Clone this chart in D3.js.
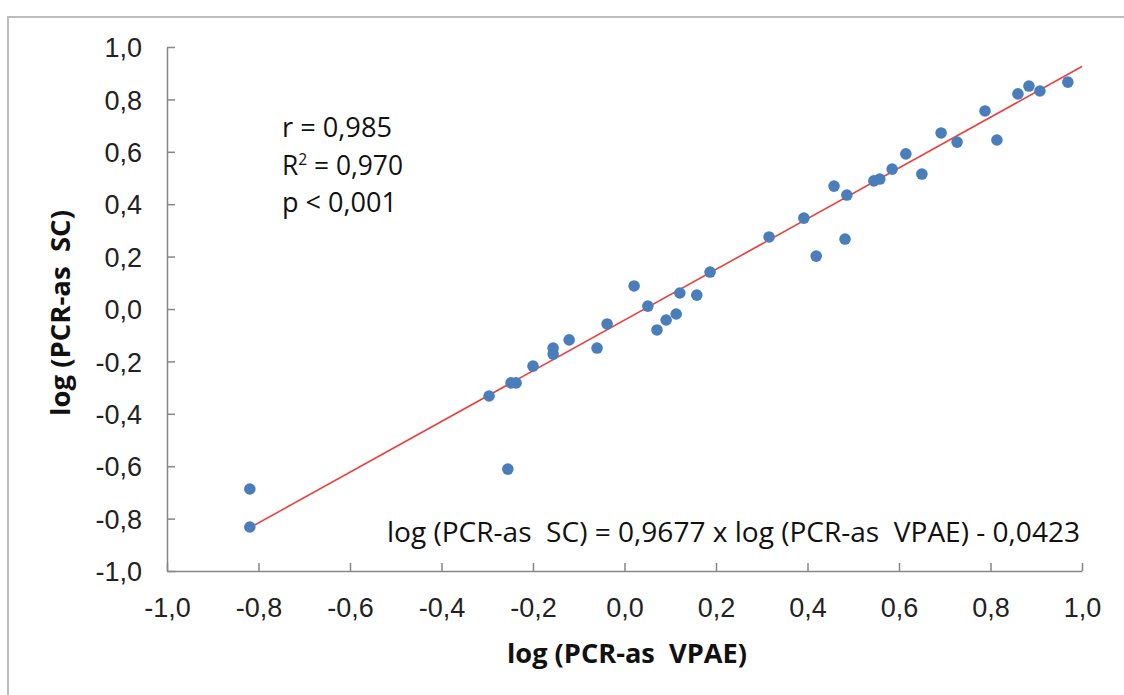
<!DOCTYPE html>
<html>
<head>
<meta charset="utf-8">
<script src="https://cdn.jsdelivr.net/npm/d3@7"></script>
<style>
  html, body { margin: 0; padding: 0; background: #fff; }
  svg { display: block; }
  text { white-space: pre; }
</style>
</head>
<body>
<svg id="viz"></svg>
<script>
let width = 1124;
let height = 695;

// log (PCR-as VPAE) values
let xValues = [-0.819, -0.819, -0.296, -0.255, -0.248, -0.237, -0.200, -0.156, -0.156, -0.121,
               -0.060, -0.038, 0.021, 0.051, 0.071, 0.091, 0.113, 0.121, 0.158, 0.187,
               0.316, 0.392, 0.419, 0.458, 0.482, 0.486, 0.545, 0.558, 0.585, 0.615,
               0.650, 0.692, 0.727, 0.788, 0.814, 0.860, 0.884, 0.908, 0.969];
// log (PCR-as SC) values
let yValues = [-0.687, -0.832, -0.332, -0.611, -0.282, -0.282, -0.218, -0.172, -0.149, -0.118,
               -0.149, -0.057, 0.088, 0.011, -0.080, -0.042, -0.019, 0.061, 0.053, 0.141,
               0.275, 0.347, 0.202, 0.469, 0.267, 0.435, 0.489, 0.496, 0.534, 0.592,
               0.515, 0.672, 0.637, 0.756, 0.645, 0.821, 0.851, 0.832, 0.866];

let tickValues = [-1.0, -0.8, -0.6, -0.4, -0.2, 0.0, 0.2, 0.4, 0.6, 0.8, 1.0];
let slope = 0.9677;
let intercept = -0.0423;
let fitRange = [-0.82, 1.0];
let statLines = ["r = 0,985", "R2 = 0,970", "p < 0,001"];
let equationText = "log (PCR-as  SC) = 0,9677 x log (PCR-as  VPAE) - 0,0423";

let dotColor = "#4a7ebb";
let lineColor = "#e8413c";
let axisColor = "#868686";
let textFont = "'Open Sans', 'DejaVu Sans', sans-serif";
let tickFont = "'Liberation Sans', Arial, sans-serif";

let svg = d3.select("#viz")
    .attr("width", width)
    .attr("height", height);

// frame of the chart area (only top and left edges are visible)
svg.append("path")
    .attr("d", "M8,700 V17 H1130")
    .attr("fill", "none")
    .attr("stroke", "#bdbdbd")
    .attr("stroke-width", 2);

let x = d3.scaleLinear().domain([-1, 1]).range([167, 1082]);
let y = d3.scaleLinear().domain([-1, 1]).range([571, 47]);

let fmt = d => d3.format(".1f")(d).replace(".", ",").replace("−", "-");

let xAxis = svg.append("g")
    .attr("transform", "translate(0," + y(-1) + ")")
    .call(d3.axisBottom(x).tickValues(tickValues).tickSizeInner(-8).tickSizeOuter(0).tickPadding(30).tickFormat(fmt));

let yAxis = svg.append("g")
    .attr("transform", "translate(" + x(-1) + ",0)")
    .call(d3.axisLeft(y).tickValues(tickValues).tickSizeInner(-8).tickSizeOuter(0).tickPadding(25).tickFormat(fmt));

for (const ax of [xAxis, yAxis]) {
    ax.select(".domain").attr("stroke", axisColor).attr("stroke-width", 1.5);
    ax.selectAll(".tick line").attr("stroke", axisColor).attr("stroke-width", 1.5);
    ax.selectAll(".tick text")
        .attr("fill", "#222")
        .style("font-family", tickFont)
        .style("font-size", "27px");
}
xAxis.selectAll(".tick text").attr("dy", "0.36em").attr("y", 36);
yAxis.selectAll(".tick text").attr("dy", "0.36em");

// regression line
let fitLine = d3.line()
    .x(d => x(d))
    .y(d => y(slope * d + intercept));

svg.append("path")
    .datum(fitRange)
    .attr("d", fitLine)
    .attr("fill", "none")
    .attr("stroke", lineColor)
    .attr("stroke-width", 1.6);

// points
let points = xValues.map((v, i) => ({ x: v, y: yValues[i] }));

svg.append("g")
    .selectAll("circle")
    .data(points)
    .enter()
    .append("circle")
    .attr("cx", d => x(d.x))
    .attr("cy", d => y(d.y))
    .attr("r", 5.8)
    .attr("fill", dotColor);

// axis titles
svg.append("text")
    .attr("x", 627)
    .attr("y", 663)
    .attr("text-anchor", "middle")
    .attr("textLength", 240)
    .attr("lengthAdjust", "spacingAndGlyphs")
    .style("font-family", textFont)
    .style("font-weight", "bold")
    .style("font-size", "27px")
    .attr("fill", "#111")
    .text("log (PCR-as  VPAE)");

svg.append("text")
    .attr("transform", "translate(70,313) rotate(-90)")
    .attr("text-anchor", "middle")
    .attr("textLength", 206)
    .attr("lengthAdjust", "spacingAndGlyphs")
    .style("font-family", textFont)
    .style("font-weight", "bold")
    .style("font-size", "27px")
    .attr("fill", "#111")
    .text("log (PCR-as  SC)");

// statistics
let stats = svg.append("g")
    .style("font-family", textFont)
    .style("font-size", "27px")
    .attr("fill", "#111");

stats.append("text").attr("x", 282).attr("y", 137)
    .attr("textLength", 110).attr("lengthAdjust", "spacingAndGlyphs")
    .text(statLines[0]);
let r2 = stats.append("text").attr("x", 282).attr("y", 175)
    .attr("textLength", 121).attr("lengthAdjust", "spacingAndGlyphs");
r2.append("tspan").text("R");
r2.append("tspan").attr("dy", -10).style("font-size", "16px").text("2");
r2.append("tspan").attr("dy", 10).text(statLines[1].slice(2));
stats.append("text").attr("x", 282).attr("y", 212)
    .attr("textLength", 115).attr("lengthAdjust", "spacingAndGlyphs")
    .text(statLines[2]);

// regression equation
svg.append("text")
    .attr("x", 1080)
    .attr("y", 542)
    .attr("text-anchor", "end")
    .attr("textLength", 693)
    .attr("lengthAdjust", "spacingAndGlyphs")
    .style("font-family", textFont)
    .style("font-size", "27px")
    .attr("fill", "#111")
    .text(equationText);
</script>
</body>
</html>
